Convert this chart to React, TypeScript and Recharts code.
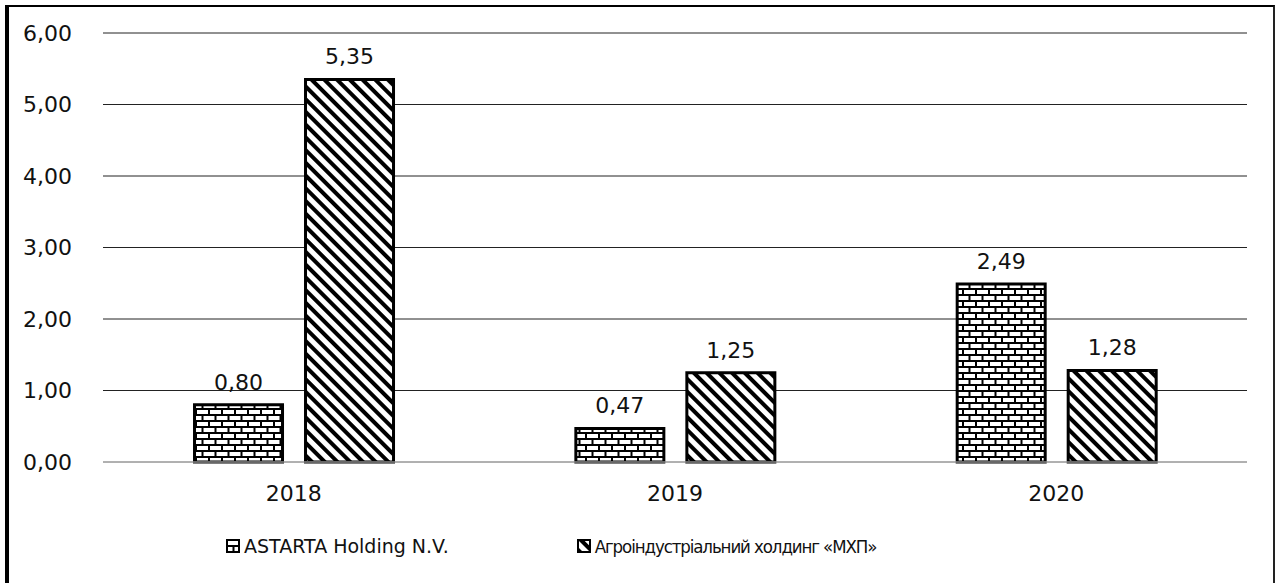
import { BarChart, Bar, XAxis, YAxis, CartesianGrid, Legend, LabelList } from 'recharts';

const years = ['2018', '2019', '2020'];
const astarta = [0.8, 0.47, 2.49];
const mhp = [5.35, 1.25, 1.28];
const yTicks = [0, 1, 2, 3, 4, 5, 6];

const data = years.map((year, i) => ({ year, astarta: astarta[i], mhp: mhp[i] }));

const FONT = '"DejaVu Sans", Tahoma, sans-serif';
const fmt = (v: number) => v.toFixed(2).replace('.', ',');

function LegendSwatch({ pattern }: { pattern: string }) {
  return (
    <svg width={14} height={14} style={{ marginRight: 4, verticalAlign: 'middle' }}>
      <rect x={1} y={1} width={12} height={12} fill={`url(#${pattern})`} stroke="#000" strokeWidth={2} />
    </svg>
  );
}

function CustomLegend() {
  return (
    <div
      style={{
        height: 28,
        display: 'flex',
        alignItems: 'center',
        paddingLeft: 226,
        fontFamily: FONT,
        fontSize: 19,
        color: '#111',
      }}
    >
      <LegendSwatch pattern="brick" />
      <span>ASTARTA Holding N.V.</span>
      <span style={{ width: 128 }} />
      <LegendSwatch pattern="stripes" />
      <span style={{ fontStretch: 'condensed', fontSize: 18.5, letterSpacing: -1.1 }}>Агроіндустріальний холдинг «МХП»</span>
    </div>
  );
}

export default function App() {
  return (
    <div style={{ position: 'absolute', left: 0, top: 0, width: 1277, height: 583, background: '#fff', overflow: 'hidden' }}>
      <div
        style={{
          position: 'absolute',
          left: 5,
          top: 5,
          width: 1264,
          height: 620,
          borderLeft: '4px solid #000',
          borderTop: '2px solid #000',
          borderRight: '2px solid #222',
        }}
      />
      <BarChart
        width={1277}
        height={583}
        data={data}
        margin={{ top: 33, right: 30, left: 0, bottom: 23 }}
        barCategoryGap="24%"
        barGap={23}
      >
        <defs>
          <pattern id="brick" patternUnits="userSpaceOnUse" width={13} height={12}>
            <rect width={13} height={12} fill="#fff" />
            <rect x={0} y={0} width={13} height={2} fill="#000" />
            <rect x={0} y={6} width={13} height={2} fill="#000" />
            <rect x={0} y={0} width={2} height={6} fill="#000" />
            <rect x={6.5} y={6} width={2} height={6} fill="#000" />
          </pattern>
          <pattern id="stripes" patternUnits="userSpaceOnUse" width={9} height={9} patternTransform="rotate(-45)">
            <rect width={9} height={9} fill="#fff" />
            <rect x={0} y={0} width={4} height={9} fill="#000" />
          </pattern>
        </defs>
        <CartesianGrid vertical={false} stroke="#222" />
        <XAxis
          dataKey="year"
          height={70}
          tickLine={false}
          axisLine={{ stroke: '#d0d0d0' }}
          tickMargin={17}
          tick={{ fontFamily: FONT, fontSize: 22, fill: '#111' }}
        />
        <YAxis
          width={103}
          domain={[0, 6]}
          ticks={yTicks}
          tickFormatter={fmt}
          axisLine={false}
          tickLine={false}
          tickMargin={25}
          tick={{ fontFamily: FONT, fontSize: 22, fill: '#111' }}
        />
        <Legend verticalAlign="bottom" content={<CustomLegend />} />
        <Bar dataKey="astarta" name="ASTARTA Holding N.V." fill="url(#brick)" stroke="#000" strokeWidth={3} isAnimationActive={false}>
          <LabelList dataKey="astarta" position="top" offset={15} formatter={(v: number) => fmt(v)} style={{ fontFamily: FONT, fontSize: 22, fill: '#111' }} />
        </Bar>
        <Bar dataKey="mhp" name="Агроіндустріальний холдинг «МХП»" fill="url(#stripes)" stroke="#000" strokeWidth={3} isAnimationActive={false}>
          <LabelList dataKey="mhp" position="top" offset={15} formatter={(v: number) => fmt(v)} style={{ fontFamily: FONT, fontSize: 22, fill: '#111' }} />
        </Bar>
      </BarChart>
    </div>
  );
}
